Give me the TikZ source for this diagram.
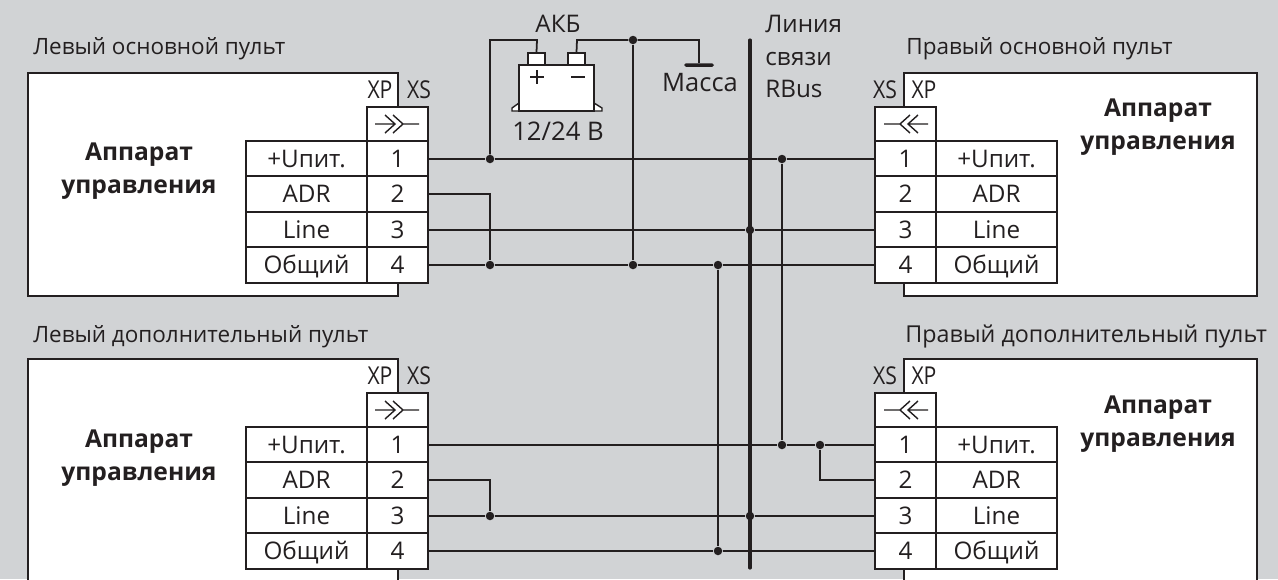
\documentclass[tikz,border=0pt]{standalone}
\usepackage{fontspec}
\setmainfont{Open Sans}
\definecolor{panelgray}{HTML}{D1D3D5}
\definecolor{inkdark}{HTML}{231F20}
\tikzset{
    panel/.style={draw=inkdark, fill=white, line width=1.1pt, inner sep=0pt},
    pincell/.style={draw=inkdark, fill=white, line width=0.95pt, inner sep=0pt, minimum width=61*0.02cm, minimum height=36*0.02cm, text=inkdark, text height=10pt, text depth=0pt, font=\fontsize{13.8}{16}\selectfont},
    labelcell/.style={pincell, minimum width=121*0.02cm},
    headcell/.style={pincell, minimum height=34*0.02cm},
    tag/.style={text=inkdark, inner sep=0pt, font=\fontsize{13.8}{16}\selectfont},
    heading/.style={tag, font=\fontsize{12.8}{15}\selectfont},
    contact/.style={tag, font=\fontsize{14}{16}\addfontfeature{FakeStretch=0.86}\selectfont},
    title/.style={tag, font=\fontsize{14}{18.7}\selectfont\bfseries, align=center},
    wire/.style={draw=inkdark, line width=1pt},
    dot/.style={circle, fill=inkdark, minimum size=8.5*0.02cm, inner sep=0pt},
    plug/.style={draw=inkdark, line width=0.8pt},
}
\begin{document}
\begin{tikzpicture}[x=0.02cm, y=-0.02cm]
    \useasboundingbox (0,0) rectangle (1278,579);
    \clip (0,0) rectangle (1278,579);
    \fill[panelgray] (0,0) rectangle (1278,579);

    % upper left panel
    \node[heading, anchor=west] (ltname) at (33,48.5) {Левый основной пульт};
    \node[panel, minimum width=370*0.02cm, minimum height=223*0.02cm] (ltbox) at (213,184.5) {};
    \node[title] (lttitle) at (139,171) {Аппарат\\управления};
    \node[contact] (ltXP) at (380,90) {XP};
    \node[contact] (ltXS) at (419,90) {XS};
    \node[headcell] (lthead) at (397.5,124) {};
    \node[labelcell] (ltlab1) at (306.5,159) {+Uпит.};
    \node[labelcell] (ltlab2) at (306.5,194) {ADR};
    \node[labelcell] (ltlab3) at (306.5,230) {Line};
    \node[labelcell] (ltlab4) at (306.5,265) {Общий};
    \node[pincell] (ltpin1) at (397.5,159) {1};
    \node[pincell] (ltpin2) at (397.5,194) {2};
    \node[pincell] (ltpin3) at (397.5,230) {3};
    \node[pincell] (ltpin4) at (397.5,265) {4};
    \draw[plug] (375,124) -- (395,124) (385,115) -- (395,124) -- (385,133);
    \draw[plug] (403,124) -- (419,124) (393,115) -- (403,124) -- (393,133);

    % lower left panel
    \node[heading, anchor=west] (lbname) at (33,336.5) {Левый дополнительный пульт};
    \node[panel, minimum width=370*0.02cm, minimum height=240*0.02cm] (lbbox) at (213,479) {};
    \node[title] (lbtitle) at (139,458.5) {Аппарат\\управления};
    \node[contact] (lbXP) at (380,376) {XP};
    \node[contact] (lbXS) at (419,376) {XS};
    \node[headcell] (lbhead) at (397.5,410) {};
    \node[labelcell] (lblab1) at (306.5,445) {+Uпит.};
    \node[labelcell] (lblab2) at (306.5,480) {ADR};
    \node[labelcell] (lblab3) at (306.5,516) {Line};
    \node[labelcell] (lblab4) at (306.5,551) {Общий};
    \node[pincell] (lbpin1) at (397.5,445) {1};
    \node[pincell] (lbpin2) at (397.5,480) {2};
    \node[pincell] (lbpin3) at (397.5,516) {3};
    \node[pincell] (lbpin4) at (397.5,551) {4};
    \draw[plug] (375,410) -- (395,410) (385,401) -- (395,410) -- (385,419);
    \draw[plug] (403,410) -- (419,410) (393,401) -- (403,410) -- (393,419);

    % upper right panel
    \node[heading, anchor=west] (rtname) at (906,48.5) {Правый основной пульт};
    \node[panel, minimum width=353*0.02cm, minimum height=223*0.02cm] (rtbox) at (1080.5,184.5) {};
    \node[title] (rttitle) at (1158,127) {Аппарат\\управления};
    \node[contact] (rtXS) at (885,90) {XS};
    \node[contact] (rtXP) at (924,90) {XP};
    \node[headcell] (rthead) at (905.5,124) {};
    \node[labelcell] (rtlab1) at (996.5,159) {+Uпит.};
    \node[labelcell] (rtlab2) at (996.5,194) {ADR};
    \node[labelcell] (rtlab3) at (996.5,230) {Line};
    \node[labelcell] (rtlab4) at (996.5,265) {Общий};
    \node[pincell] (rtpin1) at (905.5,159) {1};
    \node[pincell] (rtpin2) at (905.5,194) {2};
    \node[pincell] (rtpin3) at (905.5,230) {3};
    \node[pincell] (rtpin4) at (905.5,265) {4};
    \draw[plug] (928,124) -- (908,124) (918,115) -- (908,124) -- (918,133);
    \draw[plug] (900,124) -- (884,124) (910,115) -- (900,124) -- (910,133);

    % lower right panel
    \node[heading, anchor=west, font=\fontsize{13.25}{15}\selectfont] (rbname) at (905,336.5) {Правый дополнительный пульт};
    \node[panel, minimum width=353*0.02cm, minimum height=240*0.02cm] (rbbox) at (1080.5,479) {};
    \node[title] (rbtitle) at (1158,424) {Аппарат\\управления};
    \node[contact] (rbXS) at (885,376) {XS};
    \node[contact] (rbXP) at (924,376) {XP};
    \node[headcell] (rbhead) at (905.5,410) {};
    \node[labelcell] (rblab1) at (996.5,445) {+Uпит.};
    \node[labelcell] (rblab2) at (996.5,480) {ADR};
    \node[labelcell] (rblab3) at (996.5,516) {Line};
    \node[labelcell] (rblab4) at (996.5,551) {Общий};
    \node[pincell] (rbpin1) at (905.5,445) {1};
    \node[pincell] (rbpin2) at (905.5,480) {2};
    \node[pincell] (rbpin3) at (905.5,516) {3};
    \node[pincell] (rbpin4) at (905.5,551) {4};
    \draw[plug] (928,410) -- (908,410) (918,401) -- (908,410) -- (918,419);
    \draw[plug] (900,410) -- (884,410) (910,401) -- (900,410) -- (910,419);

    % battery
    \node[tag] (akbname) at (558,24) {АКБ};
    \draw[plug, fill=white] (519,111) -- (512,111) -- (512,108) -- (519,103);
    \draw[plug, fill=white] (594,111) -- (602,111) -- (602,108) -- (594,103);
    \node[draw=inkdark, fill=white, line width=0.85pt, inner sep=0pt, minimum width=75*0.02cm, minimum height=46*0.02cm] (akb) at (556.5,88) {};
    \node[draw=inkdark, fill=white, line width=0.85pt, inner sep=0pt, minimum width=17*0.02cm, minimum height=12*0.02cm] (akbplus) at (536.5,59) {};
    \node[draw=inkdark, fill=white, line width=0.85pt, inner sep=0pt, minimum width=17*0.02cm, minimum height=12*0.02cm] (akbminus) at (576.5,59) {};
    \draw[plug] (530,77) -- (544,77) (537,70) -- (537,84);
    \draw[plug, line width=1.1pt] (571,77) -- (585,77);
    \node[tag, font=\fontsize{14.6}{16}\selectfont] (akbvolt) at (558,131) {12/24 В};
    \node[fill=inkdark, rounded corners=1pt, inner sep=0pt, minimum width=30*0.02cm, minimum height=3.5*0.02cm] (massbar) at (699,65) {};
    \node[tag, font=\fontsize{14.5}{16}\selectfont] (massname) at (700,83) {Масса};

    % bus
    \node[tag, anchor=west] (busname1) at (765,24) {Линия};
    \node[tag, anchor=west] (busname2) at (765,59) {связи};
    \node[tag, anchor=west] (busname3) at (765,89) {RBus};
    \coordinate (bustop) at (750,40);
    \coordinate (busbot) at (750,568);
    \draw[draw=inkdark, line width=1.8pt, line cap=round] (bustop) -- (busbot);

    % junctions
    \node[dot] (dotplus) at (490,159) {};
    \node[dot] (dotlt) at (490,265) {};
    \node[dot] (dotakb) at (633,40) {};
    \node[dot] (dotakbdown) at (633,265) {};
    \node[dot] (dotgnd) at (718,265) {};
    \node[dot] (dotgndbot) at (718,551) {};
    \node[dot] (dotline) at (750,230) {};
    \node[dot] (dotlinebot) at (750,516) {};
    \node[dot] (dotpow) at (782,159) {};
    \node[dot] (dotpowbot) at (782,445) {};
    \node[dot] (dotadr) at (820,445) {};
    \node[dot] (dotlb) at (490,516) {};
    \coordinate (plustop) at (537,40);
    \coordinate (minustop) at (577,40);
    \coordinate (masstop) at (699,40);

    % wires
    \draw[wire] (ltpin1.east) -- (dotplus) -- (dotpow) -- (rtpin1.west);
    \draw[wire] (ltpin2.east) -| (dotlt);
    \draw[wire] (ltpin3.east) -- (dotline) -- (rtpin3.west);
    \draw[wire] (ltpin4.east) -- (dotlt) -- (dotakbdown) -- (dotgnd) -- (rtpin4.west);
    \draw[wire] (dotplus) |- (plustop) -- (akbplus.north);
    \draw[wire] (akbminus.north) -- (minustop) -- (dotakb) -- (masstop) -- (massbar.north);
    \draw[wire] (dotakb) -- (dotakbdown);
    \draw[wire] (dotgnd) -- (dotgndbot);
    \draw[wire] (dotpow) -- (dotpowbot);
    \draw[wire] (lbpin1.east) -- (dotpowbot) -- (dotadr) -- (rbpin1.west);
    \draw[wire] (dotadr) |- (rbpin2.west);
    \draw[wire] (lbpin2.east) -| (dotlb);
    \draw[wire] (lbpin3.east) -- (dotlb) -- (dotlinebot) -- (rbpin3.west);
    \draw[wire] (lbpin4.east) -- (dotgndbot) -- (rbpin4.west);
\end{tikzpicture}
\end{document}
